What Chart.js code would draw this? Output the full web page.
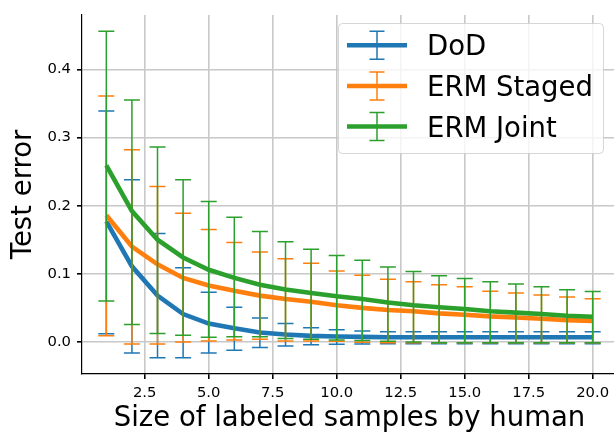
<!DOCTYPE html>
<html>
<head>
<meta charset="utf-8">
<script src="https://cdn.jsdelivr.net/npm/chart.js@4/dist/chart.umd.min.js"></script>
<style>
  html, body { margin: 0; padding: 0; background: #fff; overflow: hidden; }
  #wrap { width: 620px; height: 434px; position: relative; }
</style>
</head>
<body>
<div id="wrap"><canvas id="c" width="620" height="434"></canvas></div>
<script>
// ---- data ----
const sizes = [1,2,3,4,5,6,7,8,9,10,11,12,13,14,15,16,17,18,19,20];
const seriesNames = ['DoD', 'ERM Staged', 'ERM Joint'];

const dodMean  = [0.177,0.111,0.068,0.041,0.027,0.020,0.014,0.011,0.009,0.008,0.0075,0.007,0.007,0.007,0.007,0.007,0.007,0.007,0.007,0.007];
const dodUpper = [0.339,0.238,0.159,0.109,0.073,0.051,0.035,0.027,0.021,0.018,0.016,0.015,0.015,0.015,0.015,0.015,0.015,0.015,0.015,0.015];
const dodLower = [0.012,-0.016,-0.023,-0.023,-0.016,-0.012,-0.008,-0.006,-0.004,-0.0035,-0.003,-0.0025,-0.0025,-0.0025,-0.0025,-0.0025,-0.0025,-0.0025,-0.0025,-0.0025];

const stagedMean  = [0.186,0.140,0.114,0.094,0.083,0.075,0.068,0.063,0.059,0.054,0.050,0.047,0.045,0.042,0.040,0.0375,0.036,0.034,0.032,0.031];
const stagedUpper = [0.361,0.282,0.228,0.189,0.165,0.146,0.132,0.122,0.1155,0.104,0.098,0.092,0.0885,0.084,0.081,0.0745,0.0717,0.069,0.066,0.0635];
const stagedLower = [0.009,-0.003,-0.003,0.000,0.0015,0.003,0.004,0.0015,0.0015,0.001,-0.0005,-0.001,-0.001,-0.001,-0.001,-0.001,-0.001,-0.001,-0.001,-0.001];

const jointMean  = [0.259,0.192,0.150,0.124,0.106,0.094,0.084,0.077,0.072,0.067,0.063,0.058,0.054,0.051,0.0485,0.045,0.043,0.041,0.0385,0.037];
const jointUpper = [0.456,0.355,0.286,0.238,0.206,0.183,0.162,0.147,0.136,0.127,0.120,0.110,0.1035,0.097,0.093,0.0885,0.085,0.081,0.0765,0.074];
const jointLower = [0.060,0.0255,0.0125,0.010,0.007,0.0077,0.0077,0.005,0.004,0.003,0.002,0.001,0.000,-0.001,-0.001,-0.001,-0.001,-0.001,-0.001,-0.001];

const xTicks = [2.5,5.0,7.5,10.0,12.5,15.0,17.5,20.0];
const yTicks = [0.0,0.1,0.2,0.3,0.4];

// ---- styling ----
const colors = ['#1f77b4', '#ff7f0e', '#2ca02c'];
const FONT = 'DejaVu Sans';
const means = [dodMean, stagedMean, jointMean];
const uppers = [dodUpper, stagedUpper, jointUpper];
const lowers = [dodLower, stagedLower, jointLower];

const errPlugin = {
  id: 'errbars',
  beforeDatasetDraw(chart, args) {
    const i = args.index;
    const ctx = chart.ctx, xs = chart.scales.x, ys = chart.scales.y;
    ctx.save();
    ctx.strokeStyle = colors[i];
    ctx.lineWidth = 1.5;
    const cap = 8;
    for (let k = 0; k < sizes.length; k++) {
      const px = xs.getPixelForValue(sizes[k]);
      const pt = ys.getPixelForValue(uppers[i][k]);
      const pb = ys.getPixelForValue(lowers[i][k]);
      ctx.beginPath();
      ctx.moveTo(px, pt); ctx.lineTo(px, pb);
      ctx.moveTo(px - cap, pt); ctx.lineTo(px + cap, pt);
      ctx.moveTo(px - cap, pb); ctx.lineTo(px + cap, pb);
      ctx.stroke();
    }
    ctx.restore();
  }
};

const legendPlugin = {
  id: 'mplLegend',
  afterDraw(chart) {
    const ctx = chart.ctx;
    ctx.save();
    const x0 = 338.5, y0 = 23.5, w = 265, h = 130, r = 4;
    ctx.beginPath();
    ctx.moveTo(x0 + r, y0);
    ctx.arcTo(x0 + w, y0, x0 + w, y0 + h, r);
    ctx.arcTo(x0 + w, y0 + h, x0, y0 + h, r);
    ctx.arcTo(x0, y0 + h, x0, y0, r);
    ctx.arcTo(x0, y0, x0 + w, y0, r);
    ctx.closePath();
    ctx.fillStyle = 'rgba(255,255,255,0.8)';
    ctx.fill();
    ctx.strokeStyle = 'rgba(204,204,204,0.8)';
    ctx.lineWidth = 1;
    ctx.stroke();
    const rows = [45.3, 86, 126.5];
    for (let i = 0; i < 3; i++) {
      const cy = rows[i];
      ctx.strokeStyle = colors[i];
      ctx.lineWidth = 1.5;
      ctx.beginPath();
      ctx.moveTo(377, cy - 14); ctx.lineTo(377, cy + 14);
      ctx.moveTo(369.5, cy - 14); ctx.lineTo(384.5, cy - 14);
      ctx.moveTo(369.5, cy + 14); ctx.lineTo(384.5, cy + 14);
      ctx.stroke();
      ctx.lineWidth = 4.6;
      ctx.beginPath();
      ctx.moveTo(347, cy); ctx.lineTo(407, cy);
      ctx.stroke();
      ctx.fillStyle = '#000';
      ctx.font = '27.5px "' + FONT + '"';
      ctx.textBaseline = 'alphabetic';
      ctx.textAlign = 'left';
      ctx.fillText(seriesNames[i], 427, cy + 10);
    }
    ctx.restore();
  }
};

const datasets = seriesNames.map((name, i) => ({
  label: name,
  data: sizes.map((x, k) => ({ x: x, y: means[i][k] })),
  borderColor: colors[i],
  backgroundColor: colors[i],
  borderWidth: 4.6,
  pointRadius: 0,
  tension: 0,
  fill: false,
  order: 2 - i,
  clip: false
}));

new Chart(document.getElementById('c'), {
  type: 'line',
  data: { datasets },
  options: {
    responsive: false,
    animation: false,
    devicePixelRatio: 1,
    layout: { padding: { top: 9, right: 3, left: 0, bottom: 0 } },
    plugins: { legend: { display: false }, tooltip: { enabled: false } },
    scales: {
      x: {
        type: 'linear',
        min: 0.05, max: 20.95,
        afterFit: s => { s.height = 60; },
        afterBuildTicks: s => { s.ticks = xTicks.map(v => ({ value: v })); },
        ticks: {
          callback: v => Number(v).toFixed(1),
          font: { family: FONT, size: 14.8 },
          color: '#000',
          padding: 5,
          maxRotation: 0,
          autoSkip: false
        },
        grid: { color: '#c8c8c8', lineWidth: 1.6, tickColor: '#000', tickLength: 5, drawTicks: true },
        border: { display: true, color: '#000', width: 1.2 },
        title: {
          display: true, text: 'Size of labeled samples by human', color: '#000',
          font: { family: FONT, size: 27.5, lineHeight: 1.1 }, padding: { top: 0, bottom: 0 }
        }
      },
      y: {
        type: 'linear',
        min: -0.047, max: 0.480,
        afterFit: s => { s.width = 82; },
        afterBuildTicks: s => { s.ticks = yTicks.map(v => ({ value: v })); },
        ticks: {
          callback: v => Number(v).toFixed(1),
          font: { family: FONT, size: 14.8 },
          color: '#000',
          padding: 6,
          autoSkip: false
        },
        grid: { color: '#c8c8c8', lineWidth: 1.6, tickColor: '#000', tickLength: 5, drawTicks: true },
        border: { display: true, color: '#000', width: 1.2 },
        title: {
          display: true, text: 'Test error', color: '#000',
          font: { family: FONT, size: 27.5 }, padding: { top: 7, bottom: 0 }
        }
      }
    }
  },
  plugins: [errPlugin, legendPlugin]
});
</script>
</body>
</html>
